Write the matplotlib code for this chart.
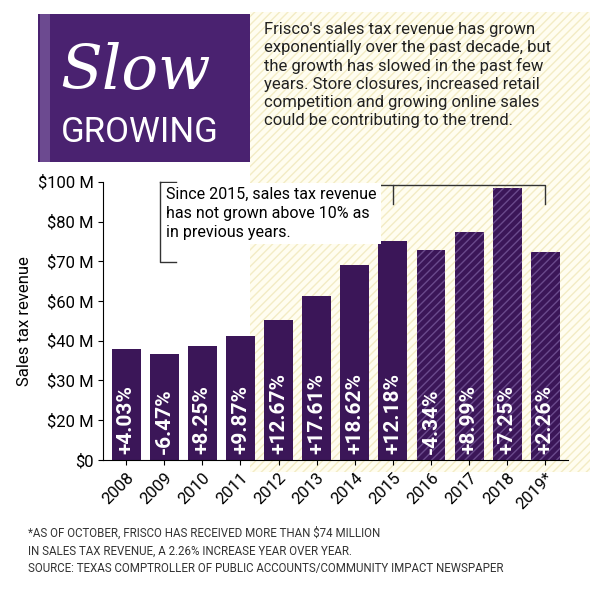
import matplotlib.pyplot as plt
from matplotlib.patches import Rectangle

plt.rcParams['font.family'] = ['Roboto', 'DejaVu Sans']

years = ['2008', '2009', '2010', '2011', '2012', '2013', '2014', '2015',
         '2016', '2017', '2018', '2019*']
# bar heights as drawn on the (unevenly labelled) axis, 0-100 scale
revenue = [40.0, 38.0, 41.0, 44.6, 50.4, 59.0, 70.0, 78.8, 75.5, 82.0, 97.8, 74.8]
growth = ['+4.03%', '-6.47%', '+8.25%', '+9.87%', '+12.67%', '+17.61%', '+18.62%',
          '+12.18%', '-4.34%', '+8.99%', '+7.25%', '+2.26%']
ytick_pos = [0, 14.3, 28.6, 42.9, 57.1, 71.4, 85.7, 100]
ytick_lab = ['$0', '$20 M', '$30 M', '$40 M', '$60 M', '$70 M', '$80 M', '$100 M']

purple = '#3b1658'
fig = plt.figure(figsize=(6.0, 5.92), dpi=100)

bg = fig.add_axes([0, 0, 1, 1], zorder=-5)
bg.set_xlim(0, 600); bg.set_ylim(592, 0); bg.axis('off')
bg.add_patch(Rectangle((250, 12), 340, 460, facecolor='#fffdf0',
                       edgecolor='#f3ecc4', hatch='////', lw=0))
bg.add_patch(Rectangle((38, 14), 212, 148, facecolor='#4a2270', edgecolor='none'))
bg.add_patch(Rectangle((40, 14), 10, 148, facecolor='#6c4a90', edgecolor='none'))
bg.text(135, 72, 'Slow', fontsize=44, color='white', ha='center', va='center',
        family='DejaVu Serif', style='italic')
bg.text(140, 133, 'GROWING', fontsize=25, color='white', ha='center', va='center')
bg.text(264, 22, "Frisco's sales tax revenue has grown\nexponentially over the past decade, but\n"
        "the growth has slowed in the past few\nyears. Store closures, increased retail\n"
        "competition and growing online sales\ncould be contributing to the trend.",
        fontsize=12, va='top', ha='left', linespacing=1.25, color='#222222')
bg.text(28, 527, "*AS OF OCTOBER, FRISCO HAS RECEIVED MORE THAN $74 MILLION\n"
        "IN SALES TAX REVENUE, A 2.26% INCREASE YEAR OVER YEAR.\n"
        "SOURCE: TEXAS COMPTROLLER OF PUBLIC ACCOUNTS/COMMUNITY IMPACT NEWSPAPER",
        fontsize=8.3, va='top', ha='left', linespacing=1.45, color='#333333')

ax = fig.add_axes([0.172, 0.223, 0.775, 0.47])
ax.patch.set_alpha(0)
x = list(range(len(years)))
bars = ax.bar(x, revenue, width=0.76, color=purple, edgecolor='none')
for i, b in enumerate(bars):
    if i >= 8:
        b.set_hatch('////')
        b.set_edgecolor('#6a4a8c')
        b.set_linewidth(0)
    ax.text(i, 2, growth[i], rotation=90, color='white', fontsize=15,
            fontweight='bold', ha='center', va='bottom')
ax.set_ylim(0, 100)
ax.set_xlim(-0.6, 11.6)
ax.set_yticks(ytick_pos)
ax.set_yticklabels(ytick_lab, fontsize=12)
ax.set_xticks(x)
ax.set_xticklabels(years, rotation=45, ha='right', rotation_mode='anchor', fontsize=12)
ax.set_ylabel('Sales tax revenue', fontsize=12)
for s in ['top', 'right']:
    ax.spines[s].set_visible(False)

ax.plot([7, 7, 11, 11], [92, 99, 99, 92], color='#333333', lw=1, clip_on=False)
ax.text(1.05, 98, 'Since 2015, sales tax revenue\nhas not grown above 10% as\nin previous years.',
        fontsize=11.5, va='top', ha='left', linespacing=1.3,
        bbox=dict(facecolor='white', edgecolor='none', pad=3))
ax.plot([0.9, 0.9, 1.3], [100, 71, 71], color='#333333', lw=1, clip_on=False)
ax.plot([0.9, 1.3], [100, 100], color='#333333', lw=1, clip_on=False)
ax.plot([5.4, 7], [99, 99], color='#333333', lw=1, clip_on=False)

fig.savefig('out.png', dpi=100)
